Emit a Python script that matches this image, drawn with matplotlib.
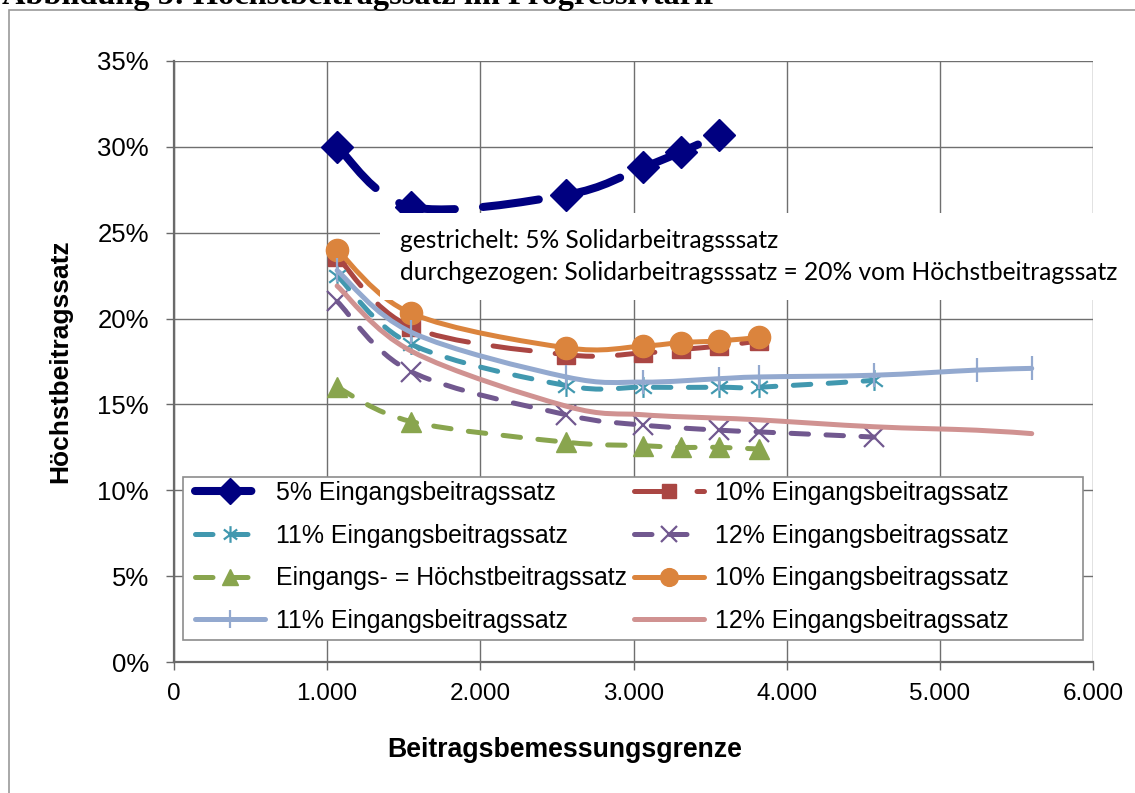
import numpy as np
import matplotlib
matplotlib.use("Agg")
import matplotlib.pyplot as plt
from matplotlib.path import Path
from matplotlib.patches import PathPatch, Rectangle
from matplotlib.lines import Line2D
from matplotlib.ticker import FuncFormatter, MultipleLocator

plt.rcParams['font.family'] = ['Liberation Sans', 'DejaVu Sans']

# x positions (Beitragsbemessungsgrenze)
x_5 = [1065, 1550, 2560, 3060, 3310, 3560]
x_long = [1065, 1550, 2560, 3060, 3310, 3560, 3820]
x_mid = [1065, 1550, 2560, 3060, 3560, 3820, 4570]
x_wide = [1065, 1550, 2560, 3060, 3560, 3820, 4570, 5240, 5600]

# Hoechstbeitragssatz in %
y_5_dash = [30.0, 26.5, 27.2, 28.8, 29.7, 30.7]
y_10_dash = [23.6, 19.5, 17.9, 18.0, 18.2, 18.4, 18.7]
y_11_dash = [22.5, 18.5, 16.1, 16.0, 16.0, 16.0, 16.4]
y_12_dash = [21.0, 16.9, 14.4, 13.8, 13.5, 13.4, 13.1]
y_equal = [16.0, 14.0, 12.8, 12.6, 12.5, 12.5, 12.4]
y_10_solid = [24.0, 20.3, 18.3, 18.4, 18.6, 18.7, 18.9]
y_11_solid = [22.8, 19.2, 16.6, 16.3, 16.5, 16.6, 16.7, 17.0, 17.1]
y_12_solid = [21.9, 18.1, 14.9, 14.4, 14.2, 14.1, 13.7, 13.5, 13.3]

labels = ["5% Eingangsbeitragssatz", "10% Eingangsbeitragssatz",
          "11% Eingangsbeitragssatz", "12% Eingangsbeitragssatz",
          "Eingangs- = Höchstbeitragssatz", "10% Eingangsbeitragssatz",
          "11% Eingangsbeitragssatz", "12% Eingangsbeitragssatz"]

# asterisk marker like in Excel
star = Path([(0, -1), (0, 1), (-0.8, -0.6), (0.8, 0.6), (-0.8, 0.6), (0.8, -0.6)],
            [Path.MOVETO, Path.LINETO, Path.MOVETO, Path.LINETO, Path.MOVETO, Path.LINETO])

dash_long = (0, (7, 3.5))
dash_red = (0, (7.5, 5))
dash_short = (0, (3.5, 3.5))

series = [
    dict(x=x_5, y=y_5_dash, color="#000080", lw=5.8, ls=dash_long, marker="D", ms=16, mew=1),
    dict(x=x_long, y=y_10_dash, color="#AA4643", lw=3.6, ls=dash_red, marker="s", ms=13, mew=1),
    dict(x=x_mid, y=y_11_dash, color="#4198AF", lw=3.6, ls=dash_short, marker=star, ms=15, mew=1.6),
    dict(x=x_mid, y=y_12_dash, color="#71588F", lw=3.6, ls=dash_short, marker="x", ms=14, mew=1.6),
    dict(x=x_long, y=y_equal, color="#89A54E", lw=3.6, ls=dash_short, marker="^", ms=15, mew=1),
    dict(x=x_long, y=y_10_solid, color="#DB843D", lw=3.6, ls="-", marker="o", ms=16, mew=1),
    dict(x=x_wide, y=y_11_solid, color="#93A9CF", lw=3.6, ls="-", marker="|", ms=17, mew=1.6),
    dict(x=x_wide, y=y_12_solid, color="#D09291", lw=3.6, ls="-", marker=None, ms=0, mew=0),
]


def smooth_path(xs, ys):
    # Excel-like smoothed line as cubic Bezier segments through the points
    pts = np.column_stack([xs, ys]).astype(float)
    n = len(pts)
    verts = [pts[0]]
    codes = [Path.MOVETO]
    for i in range(n - 1):
        p0 = pts[i - 1] if i > 0 else pts[i]
        p1 = pts[i]
        p2 = pts[i + 1]
        p3 = pts[i + 2] if i + 2 < n else pts[i + 1]
        verts += [p1 + (p2 - p0) / 6, p2 - (p3 - p1) / 6, p2]
        codes += [Path.CURVE4] * 3
    return Path(verts, codes)


fig = plt.figure(figsize=(11.35, 7.93), dpi=100)
ax = fig.add_axes([174 / 1135, 1 - 662 / 793, 919 / 1135, 601 / 793])

handles = []
for k, s in enumerate(series):
    z = 3 + k * 0.1
    patch = PathPatch(smooth_path(s["x"], s["y"]), fill=False, edgecolor=s["color"],
                      lw=s["lw"], linestyle=s["ls"], zorder=z)
    patch.set_capstyle("round")
    patch.set_joinstyle("round")
    ax.add_patch(patch)
    if s["marker"] is not None:
        ax.plot(s["x"], s["y"], linestyle="none", marker=s["marker"], ms=s["ms"],
                color=s["color"], mec=s["color"], mew=s["mew"], zorder=z + 0.05)
    h = Line2D([], [], color=s["color"], lw=s["lw"], linestyle=s["ls"],
               marker=s["marker"], ms=s["ms"] * 0.8, mec=s["color"], mew=s["mew"],
               dash_capstyle="round", solid_capstyle="round")
    handles.append(h)

ax.set_xlim(0, 6000)
ax.set_ylim(0, 35)
ax.xaxis.set_major_locator(MultipleLocator(1000))
ax.yaxis.set_major_locator(MultipleLocator(5))
ax.xaxis.set_major_formatter(FuncFormatter(lambda v, p: f"{int(v):,}".replace(",", ".")))
ax.yaxis.set_major_formatter(FuncFormatter(lambda v, p: f"{int(round(v))}%"))
ax.grid(True, color="#6f6f6f", lw=1)
ax.set_axisbelow(True)
for side in ["top", "right"]:
    ax.spines[side].set_visible(False)
for side in ["left", "bottom"]:
    ax.spines[side].set_color("#6a6a6a")
    ax.spines[side].set_linewidth(1.6)
ax.tick_params(axis="both", direction="out", length=6, width=1, color="#6a6a6a")
ax.tick_params(axis="y", pad=12, labelsize=18.5)
ax.tick_params(axis="x", pad=9, labelsize=17.5)

ax.set_xlabel("Beitragsbemessungsgrenze", fontsize=19.2, fontweight="bold", labelpad=24)
ax.xaxis.set_label_coords(391 / 919, -0.125)
ax.set_ylabel("Höchstbeitragssatz", fontsize=19, fontweight="bold", labelpad=18)

# legend box
ax.add_patch(Rectangle((9 / 919, 22 / 601), 900 / 919, 163 / 601, transform=ax.transAxes,
                       facecolor="white", edgecolor="#8c8c8c", lw=1.2, zorder=6))
order = [0, 2, 4, 6, 1, 3, 5, 7]
leg = ax.legend([handles[i] for i in order], [labels[i] for i in order], ncol=2,
                loc="center left", bbox_to_anchor=(21 / 919, 105 / 601),
                frameon=False, fontsize=17.9, handlelength=2.8, handletextpad=0.45,
                columnspacing=0.3, labelspacing=0.75, borderpad=0, borderaxespad=0)
leg.set_zorder(7)

# outer frame of the figure
fig.patches.append(Rectangle((9 / 1135, -0.1), 1.2, 1.1 - 10 / 793, transform=fig.transFigure,
                             facecolor="none", edgecolor="#9a9a9a", lw=1.2, zorder=1))

# note box covering part of the plot
fig.patches.append(Rectangle((380 / 1135, 1 - 300 / 793), 1.0, 87 / 793, transform=fig.transFigure,
                             facecolor="white", edgecolor="none", zorder=2))
note1 = fig.text(400 / 1135, 1 - 241 / 793, "gestrichelt: 5% Solidarbeitragsssatz",
                 fontfamily="Lato", fontsize=16, va="center", zorder=3)
note2 = fig.text(400 / 1135, 1 - 273 / 793,
                 "durchgezogen: Solidarbeitragsssatz = 20% vom Höchstbeitragssatz",
                 fontfamily="Lato", fontsize=16, va="center", zorder=3)
fig.canvas.draw()
w = note2.get_window_extent().width
for t in (note1, note2):
    t.set_fontsize(16 * 720 / w)

# cut-off caption at the top
fig.text(2 / 1135, 1 - 4 / 793, "Abbildung 5: Höchstbeitragssatz im Progressivtarif",
         fontfamily="Liberation Serif", fontweight="bold", fontsize=23.3, va="baseline")

fig.savefig("out.png", dpi=100)
